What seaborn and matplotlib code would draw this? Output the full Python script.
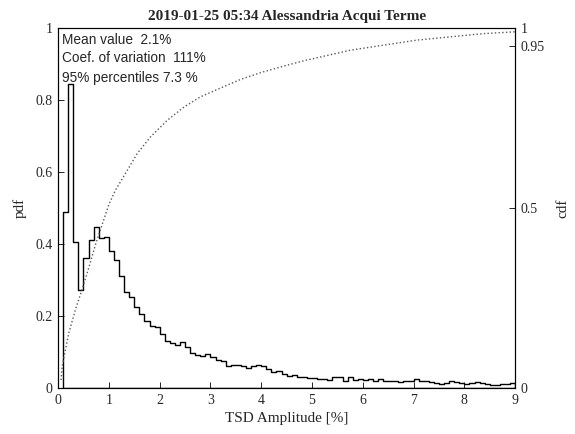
import numpy as np
import pandas as pd
import matplotlib
matplotlib.use("Agg")
import matplotlib.pyplot as plt
import seaborn as sns

# Dati
title = "2019-01-25 05:34 Alessandria Acqui Terme"
stats_lines = ["Mean value  2.1%", "Coef. of variation  111%", "95% percentiles 7.3 %"]

bin_start = 0.1
bin_width = 0.1
pdf_values = [
    0.490, 0.845, 0.406, 0.271, 0.361, 0.412, 0.447, 0.417, 0.421,
    0.380, 0.356, 0.310, 0.267, 0.253, 0.224, 0.206, 0.186, 0.172, 0.169,
    0.149, 0.132, 0.124, 0.120, 0.127, 0.113, 0.097, 0.093, 0.088, 0.095,
    0.086, 0.079, 0.074, 0.061, 0.063, 0.064, 0.060, 0.055, 0.062, 0.064,
    0.060, 0.053, 0.044, 0.046, 0.040, 0.032, 0.035, 0.030, 0.030, 0.028,
    0.028, 0.024, 0.024, 0.022, 0.031, 0.030, 0.020, 0.030, 0.022, 0.024,
    0.022, 0.024, 0.020, 0.026, 0.020, 0.020, 0.019, 0.017, 0.019, 0.019,
    0.024, 0.019, 0.019, 0.016, 0.013, 0.011, 0.013, 0.019, 0.017, 0.013,
    0.011, 0.015, 0.017, 0.013, 0.011, 0.009, 0.009, 0.011, 0.011, 0.015,
]

cdf_x = [0.06, 0.08, 0.21, 0.34, 0.48, 0.61, 0.74, 0.87, 1.00, 1.13, 1.30, 1.56,
         1.82, 2.15, 2.48, 2.80, 3.17, 3.60, 4.00, 4.45, 4.85, 5.76, 7.07, 8.38, 9.0]
cdf_y = [0.022, 0.06, 0.152, 0.217, 0.277, 0.337, 0.400, 0.455, 0.510, 0.550, 0.590, 0.652,
         0.698, 0.744, 0.781, 0.809, 0.832, 0.858, 0.877, 0.895, 0.910, 0.939, 0.967, 0.985, 0.99]

x_ticks = list(range(0, 10))
pdf_ticks = [0, 0.2, 0.4, 0.6, 0.8, 1]
pdf_tick_labels = ["0", "0.2", "0.4", "0.6", "0.8", "1"]
cdf_ticks = [0, 0.5, 0.95, 1]
cdf_tick_labels = ["0", "0.5", "0.95", "1"]

edges = np.round(bin_start + bin_width * np.arange(len(pdf_values) + 1), 3)
hist_df = pd.DataFrame({"amp": (edges[:-1] + edges[1:]) / 2, "pdf": pdf_values})
cdf_df = pd.DataFrame({"amp": cdf_x, "cdf": cdf_y})

sns.set_style("ticks", {"xtick.direction": "in", "ytick.direction": "in"})
plt.rcParams["font.family"] = ["Liberation Serif", "DejaVu Serif"]
plt.rcParams["axes.edgecolor"] = "black"
plt.rcParams["axes.linewidth"] = 0.8

fig = plt.figure(figsize=(5.75, 4.34), dpi=100)
ax = fig.add_axes([0.101, 0.106, 0.795, 0.829])

# istogramma a gradini (pdf), contorno chiuso fino alla base
sns.histplot(data=hist_df, x="amp", weights="pdf", bins=edges.tolist(), element="step",
             fill=True, color="black", facecolor="none", edgecolor="black",
             linewidth=1.0, ax=ax)
ax.set_xlim(0, 9)
ax.set_ylim(0, 1)
ax.set_xticks(x_ticks)
ax.set_yticks(pdf_ticks)
ax.set_yticklabels(pdf_tick_labels)
ax.set_xlabel("TSD Amplitude [%]", fontsize=11, labelpad=4)
ax.set_ylabel("pdf", fontsize=11, labelpad=6)
ax.tick_params(labelsize=10, length=4, width=0.6, color="black", pad=4)
ax.set_title(title, fontsize=11, fontweight="bold", pad=6)

# curva cumulativa (cdf)
ax2 = ax.twinx()
sns.lineplot(data=cdf_df, x="amp", y="cdf", ax=ax2, color="0.35", linestyle=":", linewidth=1.0)
ax2.set_ylim(0, 1)
ax2.set_yticks(cdf_ticks)
ax2.set_yticklabels(cdf_tick_labels)
ax2.set_ylabel("cdf", fontsize=11, labelpad=8)
ax2.tick_params(labelsize=10, length=4, width=0.6, color="black", direction="in", pad=4)

ys = [0.967, 0.916, 0.862]
for line, y in zip(stats_lines, ys):
    ax.text(0.0094, y, line, transform=ax.transAxes, va="center", ha="left",
            fontsize=9.8, family=["Liberation Sans", "DejaVu Sans"])

fig.savefig("out.png", dpi=100)
